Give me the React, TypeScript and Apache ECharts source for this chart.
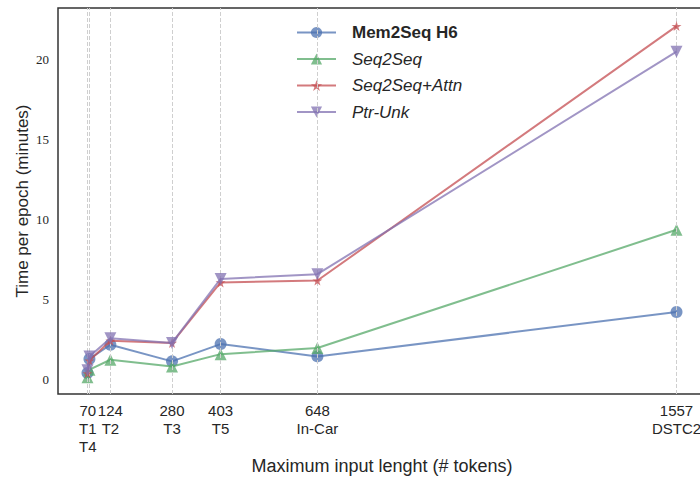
import React, { useEffect, useRef } from "react";
import * as echarts from "echarts";

const datasetNames = ["T1", "T4", "T2", "T3", "T5", "In-Car", "DSTC2"];
const maxInputLength = [66, 71, 124, 280, 403, 648, 1557];

const mem2seqH6 = [0.42, 1.3, 2.19, 1.15, 2.23, 1.46, 4.23];
const seq2seq = [0.15, 0.63, 1.25, 0.83, 1.6, 1.98, 9.37];
const seq2seqAttn = [0.4, 1.2, 2.44, 2.3, 6.08, 6.2, 22.1];
const ptrUnk = [0.6, 1.45, 2.6, 2.3, 6.3, 6.6, 20.5];

const xTickValues = [67, 124, 280, 403, 648, 1557];
const xTickLabels = ["70\nT1\nT4", "124\nT2", "280\nT3", "403\nT5", "648\nIn-Car", "1557\nDSTC2"];
const yTickValues = [0, 5, 10, 15, 20];

const seriesNames = ["Mem2Seq H6", "Seq2Seq", "Seq2Seq+Attn", "Ptr-Unk"];
const seriesColors = ["#4C72B0", "#55A868", "#C44E52", "#8172B2"];
const seriesSymbols = ["circle", "triangle", "path://M50,0 L61,35 L98,35 L68,57 L79,91 L50,70 L21,91 L32,57 L2,35 L39,35 Z", "path://M0,0 L100,0 L50,87 Z"];
const seriesSymbolSizes = [12, 12, 10, 12];
const seriesValues = [mem2seqH6, seq2seq, seq2seqAttn, ptrUnk];

export default function App() {
  const ref = useRef<HTMLDivElement>(null);
  useEffect(() => {
    if (!ref.current) return;
    const chart = echarts.init(ref.current, null, { renderer: "svg" });
    const textColor = "#262626";
    const lineSeries = seriesNames.map((name, i) => ({
      name,
      type: "line",
      data: maxInputLength.map((x, j) => [x, seriesValues[i][j]]),
      symbol: seriesSymbols[i],
      symbolSize: seriesSymbolSizes[i],
      showAllSymbol: true,
      z: 3 + i,
      lineStyle: { color: seriesColors[i], width: 2, opacity: 0.75 },
      itemStyle: { color: seriesColors[i], opacity: 0.75 },
    }));
    chart.setOption({
      animation: false,
      backgroundColor: "#ffffff",
      grid: {
        left: 58,
        top: 8,
        width: 648,
        height: 386,
        show: true,
        borderColor: "#333333",
        borderWidth: 1.5,
        backgroundColor: "transparent",
        containLabel: false,
        outerBoundsMode: "none",
      },
      legend: {
        data: seriesNames,
        orient: "vertical",
        left: 296,
        top: 24,
        padding: 0,
        itemWidth: 39,
        itemHeight: 14,
        itemGap: 9.5,
        textStyle: {
          fontFamily: "Liberation Sans",
          fontSize: 17,
          color: textColor,
          rich: {
            b: { fontWeight: "bold", fontSize: 17, fontFamily: "Liberation Sans", color: textColor, padding: [0, 0, 0, 11] },
            i: { fontStyle: "italic", fontSize: 17, fontFamily: "Liberation Sans", color: textColor, padding: [0, 0, 0, 11] },
          },
        },
        formatter: (name: string) => (name === "Mem2Seq H6" ? `{b|${name}}` : `{i|${name}}`),
      },
      xAxis: {
        type: "value",
        min: -8.6,
        max: 1631.6,
        axisLine: { show: false },
        axisTick: { show: false },
        splitLine: { show: false },
        axisLabel: {
          customValues: xTickValues,
          formatter: (v: number) => {
            const idx = xTickValues.indexOf(v);
            return idx >= 0 ? xTickLabels[idx] : "";
          },
          fontFamily: "Liberation Sans",
          fontSize: 15,
          lineHeight: 18,
          color: textColor,
          margin: 7,
        },
        name: "Maximum input lenght (# tokens)",
        nameLocation: "middle",
        nameMoveOverlap: false,
        nameGap: 63,
        nameTextStyle: { fontFamily: "Liberation Sans", fontSize: 18, color: textColor },
      },
      yAxis: {
        type: "value",
        min: -0.89,
        max: 23.23,
        axisLine: { show: false },
        axisTick: { show: false },
        splitLine: { show: false },
        axisLabel: {
          customValues: yTickValues,
          formatter: (v: number) => String(v),
          fontFamily: "Liberation Serif",
          fontSize: 13,
          color: textColor,
          margin: 9,
        },
        name: "Time per epoch (minutes)",
        nameLocation: "middle",
        nameMoveOverlap: false,
        nameGap: 27,
        nameTextStyle: { fontFamily: "Liberation Sans", fontSize: 17, color: textColor },
      },
      series: [
        {
          name: "gridlines",
          type: "line",
          data: [],
          z: 1,
          silent: true,
          markLine: {
            silent: true,
            symbol: ["none", "none"],
            label: { show: false },
            lineStyle: { color: "#cfcfcf", type: [4, 2], width: 1 },
            data: maxInputLength.map((v) => ({ xAxis: v })),
          },
        },
        ...lineSeries,
      ],
    });
    return () => chart.dispose();
  }, []);
  return (
    <div
      ref={ref}
      style={{ position: "fixed", left: 0, top: 0, width: 700, height: 477 }}
    />
  );
}
